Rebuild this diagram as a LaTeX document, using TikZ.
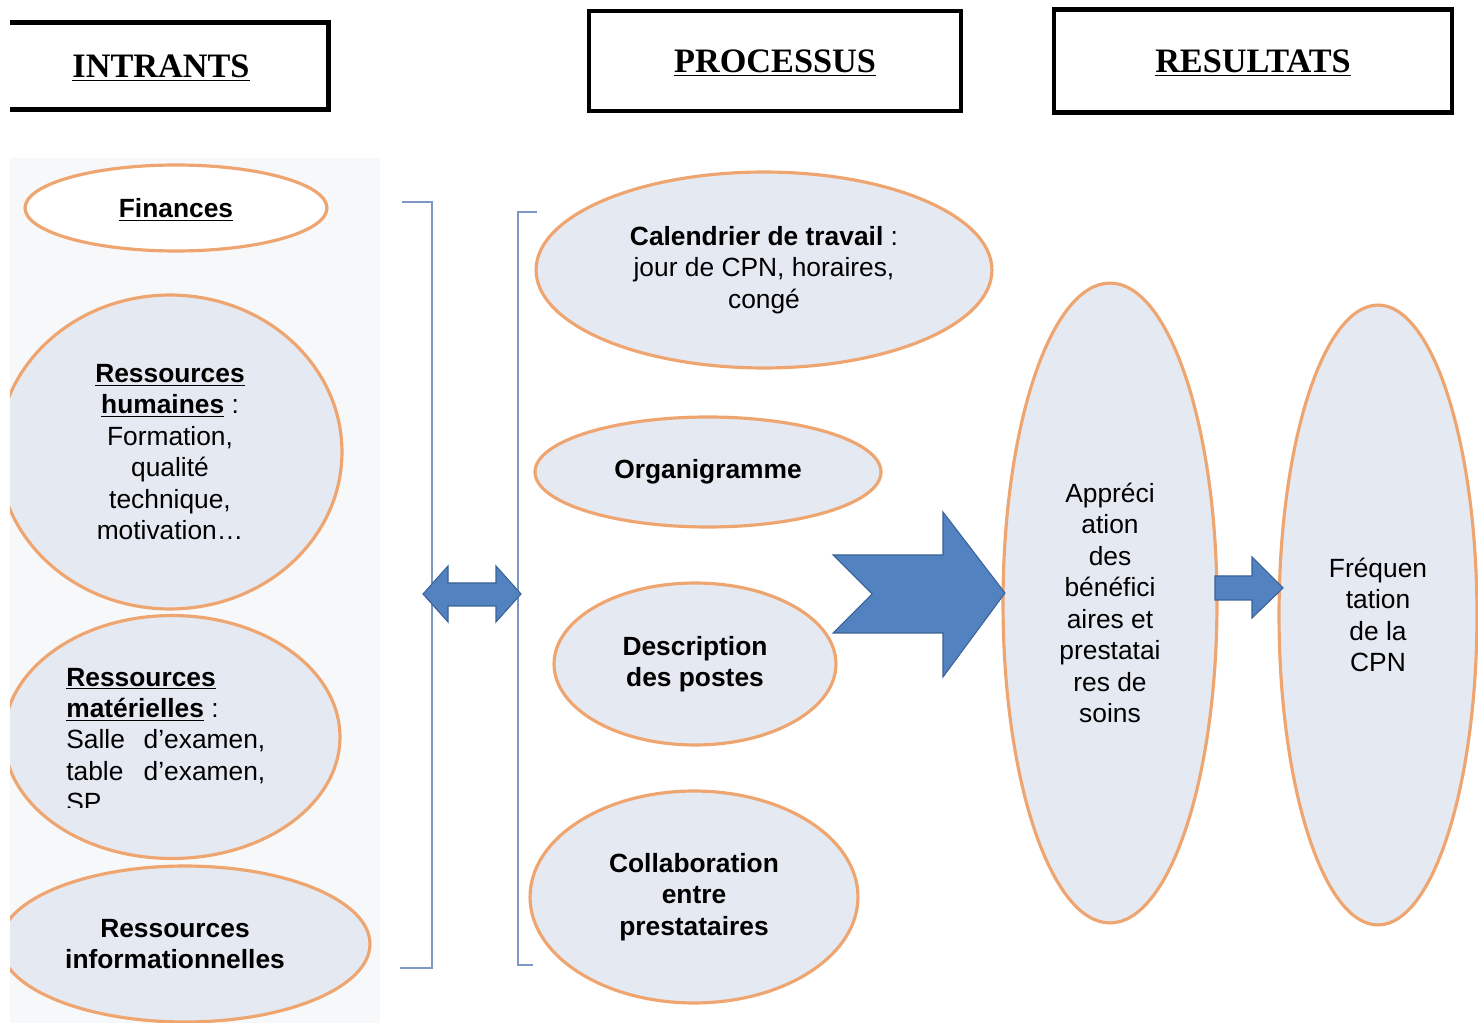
\documentclass[tikz,border=0pt]{standalone}
\usepackage{fontspec}
\setmainfont{Liberation Sans}
\newfontfamily\titrefont{Liberation Serif}
\usetikzlibrary{shapes.geometric}

\definecolor{bulle}{RGB}{228,233,242}
\definecolor{bord}{RGB}{239,165,112}
\definecolor{fleche}{RGB}{82,131,192}
\definecolor{flechebord}{RGB}{58,98,150}
\definecolor{crochet}{RGB}{125,152,196}
\definecolor{fond}{RGB}{247,248,250}

\begin{document}
\begin{tikzpicture}[x=0.02cm,y=-0.02cm,
		titre/.style={inner sep=0pt,text depth=0pt,font=\titrefont\bfseries\fontsize{19.5}{23}\selectfont},
		cadre/.style={line width=2.6pt},
		bulle/.style={ellipse,draw=bord,line width=1.8pt,fill=bulle,inner sep=0pt,align=center,
			font=\fontsize{15}{17.9}\selectfont},
		fleche/.style={fill=fleche,draw=flechebord,line width=.6pt,line join=miter},
		crochet/.style={draw=crochet,line width=1pt}]
		\useasboundingbox (0,0) rectangle (1478,1023);

		% en-tetes
		\node[titre,minimum width=6.36cm,minimum height=1.72cm] (intr) at (169,66) {\underline{INTRANTS}\hspace*{.32cm}};
		\node[titre,minimum width=7.42cm,minimum height=1.98cm] (proc) at (775,61) {\underline{PROCESSUS}};
		\node[titre,minimum width=7.94cm,minimum height=2.04cm] (res) at (1253,61) {\underline{RESULTATS}};
		\draw[cadre] (intr.north west) -- (intr.north east) -- (intr.south east) -- (intr.south west);
		\draw[cadre] (proc.north west) rectangle (proc.south east);
		\draw[cadre] (res.north west) rectangle (res.south east);

		% intrants
		\fill[fond] (10,158) rectangle (380,1023);
		\begin{scope}
			\clip (10,150) rectangle (400,1023);
			\node[bulle,fill=white,text depth=0pt,minimum width=6.04cm,minimum height=1.72cm] (fin) at (176,208)
				{\textbf{\underline{Finances}}};
			\node[bulle,minimum width=6.88cm,minimum height=6.28cm] (hum) at (170,452)
				{\textbf{\underline{Ressources}}\\\textbf{\underline{humaines}} :\\Formation,\\qualité\\technique,\\motivation\dots};
			\node[bulle,minimum width=6.72cm,minimum height=4.86cm] (mat) at (172,737) {};
			\node[bulle,minimum width=7.4cm,minimum height=3.12cm] (info) at (185,944)
				{\textbf{Ressources}\hspace*{.4cm}\\\textbf{informationnelles}\hspace*{.4cm}};
		\end{scope}
		\begin{scope}
			\clip (10,650) rectangle (400,807);
			\node[inner sep=0pt,align=left,anchor=west,font=\fontsize{15}{17.9}\selectfont] (mattxt) at (66,740)
				{\textbf{\underline{Ressources}}\\\textbf{\underline{matérielles}} :\\
				\hbox to 3.98cm{Salle\hfill d’examen,}\\\hbox to 3.98cm{table\hfill d’examen,}\\SP};
		\end{scope}

		% processus
		\draw[crochet] (402,202) -- (432,202) -- (432,968) -- (400,968);
		\draw[crochet] (537,212) -- (518,212) -- (518,965) -- (533,965);
		\node[bulle,minimum width=9.12cm,minimum height=3.92cm] (cal) at (764,270)
			{\textbf{Calendrier de travail} :\\jour de CPN, horaires,\\congé};
		\node[bulle,minimum width=6.92cm,minimum height=2.2cm] (org) at (708,472) {\textbf{Organigramme}};
		\node[bulle,minimum width=5.64cm,minimum height=3.24cm] (desc) at (695,664)
			{\textbf{Description}\\\textbf{des postes}};
		\node[bulle,minimum width=6.56cm,minimum height=4.24cm] (coll) at (694,897)
			{\textbf{Collaboration}\\\textbf{entre}\\\textbf{prestataires}};

		% resultats
		\node[bulle,minimum width=4.28cm,minimum height=12.8cm] (appr) at (1110,603)
			{Appréci\\ation\\des\\bénéfici\\aires et\\prestatai\\res de\\soins};
		\node[bulle,minimum width=3.96cm,minimum height=12.4cm] (freq) at (1378,615)
			{Fréquen\\tation\\de la\\CPN};

		% fleches
		\draw[fleche] (423,594) -- (448,566) -- (448,583) -- (496,583) -- (496,566) -- (521,594)
			-- (496,622) -- (496,606) -- (448,606) -- (448,622) -- cycle;
		\draw[fleche] (833,555) -- (943,555) -- (943,512) -- (1005,593) -- (943,677) -- (943,633)
			-- (833,633) -- (872,594) -- cycle;
		\draw[fleche] (1215,576) -- (1252,576) -- (1252,557) -- (1283,588) -- (1252,618) -- (1252,600)
			-- (1215,600) -- cycle;
		\end{tikzpicture}
\end{document}
